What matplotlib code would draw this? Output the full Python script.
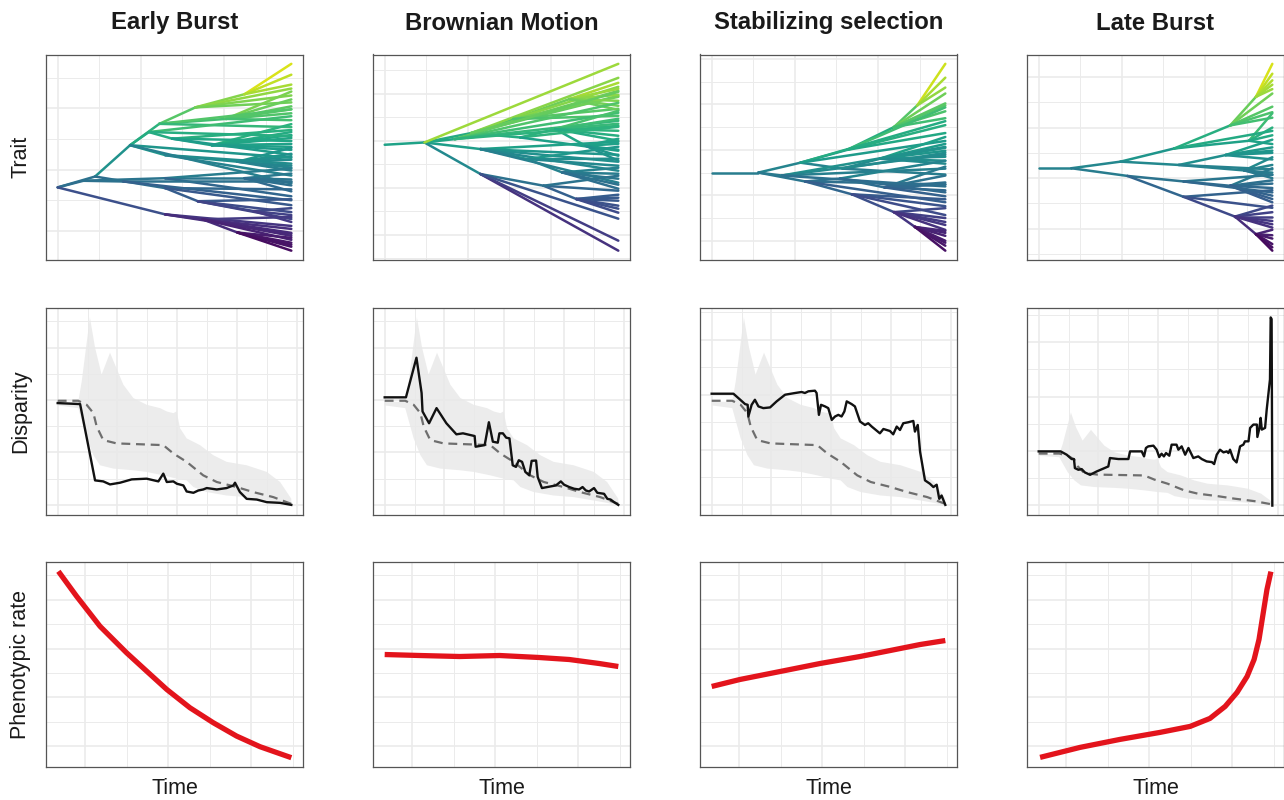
import numpy as np
import matplotlib
matplotlib.use("Agg")
import matplotlib.pyplot as plt
from matplotlib.collections import LineCollection

plt.rcParams['font.family'] = ['Liberation Sans', 'DejaVu Sans']

titles = ["Early Burst", "Brownian Motion", "Stabilizing selection", "Late Burst"]
row_labels = ["Trait", "Disparity", "Phenotypic rate"]

# --- row 1: trait trees, node -> (parent, time, trait); tips all end at time 1 ---
eb_nodes = {
    "R": (None, 0.0, 0.0), "A": ("R", 0.16, 1.1), "B": ("R", 0.11, 0.67),
    "C": ("R", 0.46, -2.73), "D": ("A", 0.31, 4.27), "E": ("D", 0.435, 6.43),
    "E2": ("D", 0.39, 5.6), "F": ("E", 0.59, 8.1), "G": ("F", 0.80, 9.43),
    "H": ("E2", 0.49, 4.93), "H2": ("D", 0.46, 3.27), "I": ("A", 0.46, -0.07),
    "J": ("B", 0.46, 0.93), "J2": ("B", 0.28, 0.6), "K": ("C", 0.62, -3.23),
    "L": ("K", 0.77, -4.57), "M": ("I", 0.60, -1.4), "Q": ("H", 0.66, 4.27),
    "S": ("E", 0.72, 6.93), "T": ("H2", 0.77, 2.6), "U": ("J", 0.80, 0.93),
    "V": ("M", 0.84, -2.4),
}
eb_tips = {
    "G": [12.5, 11.4, 10.4], "F": [10.0, 9.3, 8.6], "S": [9.7, 8.9, 8.2, 7.9, 7.5, 6.8],
    "E": [7.9, 6.1], "Q": [6.4, 5.6, 5.3, 5.0, 4.4, 4.1, 3.8], "H": [5.8, 4.7, 3.3],
    "E2": [7.2, 5.2], "T": [4.0, 3.4, 3.1, 2.8, 2.2, 2.0, 1.7], "H2": [2.4, 1.2],
    "D": [3.0, 0.4], "U": [1.4, 0.8, 0.5, 0.2, -0.4], "J": [1.9, -0.9], "J2": [0.6, -1.3],
    "I": [-0.2, -1.8], "M": [-1.2, -2.5, -3.2], "V": [-2.1, -2.8, -3.5], "C": [-3.9, -4.7],
    "K": [-3.0, -4.2, -4.6, -4.9, -5.3], "L": [-5.1, -5.6, -5.8, -6.0, -6.4],
}

bm_nodes = {
    "R": (None, 0.0, 0.0), "N1": ("R", 0.17, 0.23), "N2": ("N1", 0.37, 1.17),
    "N3": ("N1", 0.41, -0.43), "N4": ("N1", 0.41, -2.93), "N5": ("N2", 0.55, 2.57),
    "N6": ("N2", 0.58, 0.73), "N7": ("N4", 0.68, -4.1), "N8": ("N3", 0.61, -1.43),
    "N9": ("N5", 0.79, 4.57), "N10": ("N6", 0.73, 1.57), "N11": ("N8", 0.76, -2.77),
    "N12": ("N7", 0.82, -5.43), "N13": ("N1", 0.30, 0.57), "N14": ("N10", 0.86, -0.1),
}
bm_tips = {
    "N1": [8.1], "N2": [6.7, 5.4, 4.9], "N5": [5.8, 4.8, 3.6, 2.9],
    "N9": [6.2, 5.6, 5.0, 4.4, 3.9, 3.5], "N13": [5.3, 4.2, 3.2, 2.4, 1.9],
    "N10": [3.4, 2.6, 2.1, 1.4, 0.9, 0.4], "N6": [1.8, -0.6],
    "N14": [0.6, 0.1, -0.5, -1.1, -1.6], "N3": [0.3, -1.0, -1.7, -2.6, -3.8],
    "N8": [-0.2, -1.4, -2.1], "N11": [-2.3, -2.9, -3.4, -4.0, -4.4],
    "N4": [-10.6, -9.6, -7.4], "N7": [-4.6, -3.1], "N12": [-5.0, -5.3, -5.6, -6.1, -6.4, -6.8],
}

ou_nodes = {
    "R": (None, 0.0, 0.0), "S1": ("R", 0.20, 0.0), "S2": ("S1", 0.38, 1.0),
    "S3": ("S1", 0.40, -0.9), "S4": ("S2", 0.58, 2.3), "S5": ("S2", 0.56, 0.4),
    "S6": ("S3", 0.60, -2.2), "S7": ("S3", 0.55, -0.6), "S8": ("S4", 0.78, 4.6),
    "S9": ("S6", 0.78, -4.0), "S10": ("S5", 0.72, 1.4), "S11": ("S7", 0.74, -1.5),
    "S12": ("S8", 0.88, 6.8), "S13": ("S9", 0.87, -5.5), "S14": ("S1", 0.30, -0.3),
}
ou_tips = {
    "S12": [11.0, 9.6, 8.6], "S8": [8.0, 7.0, 6.8, 6.2, 5.5], "S4": [6.6, 4.8, 4.0],
    "S2": [5.2, 3.2], "S10": [3.6, 2.9, 2.5, 2.2, 1.6, 1.2, 0.9], "S5": [2.0, -0.2],
    "S14": [2.6, 1.8, 0.4, -1.4], "S11": [0.6, -0.3, -1.0, -1.2, -1.8, -2.4],
    "S7": [1.2, -2.0], "S3": [-1.2, -3.0], "S6": [-2.7, -3.4, -4.3],
    "S9": [-3.6, -4.6, -5.0, -5.3, -5.8], "S13": [-5.9, -6.1, -6.4, -6.9, -7.1, -7.4, -7.9],
}

lb_nodes = {
    "R": (None, 0.0, 0.0), "L1": ("R", 0.14, 0.0), "L2": ("L1", 0.35, 0.6),
    "L3": ("L1", 0.38, -0.7), "L4": ("L2", 0.58, 1.8), "L5": ("L2", 0.60, 0.3),
    "L6": ("L3", 0.62, -1.2), "L7": ("L3", 0.62, -2.6), "L8": ("L4", 0.82, 3.9),
    "L9": ("L7", 0.84, -4.4), "L10": ("L5", 0.80, 1.2), "L11": ("L6", 0.82, -1.6),
    "L12": ("L8", 0.93, 6.5), "L13": ("L9", 0.93, -6.0), "L14": ("L4", 0.90, 2.5),
    "L15": ("L5", 0.88, -0.2),
}
lb_tips = {
    "L12": [9.5, 8.6, 8.0, 7.6, 7.2], "L8": [6.8, 5.6, 5.1, 4.6], "L14": [5.0, 3.7, 3.0, 2.2],
    "L4": [3.4], "L10": [2.6, 1.9, 1.6, 1.4, 0.8], "L15": [1.0, 0.3, -0.4, -0.6, -0.9],
    "L5": [-0.1], "L11": [0.0, -1.1, -1.4, -1.8, -2.5, -2.8, -3.1], "L6": [-0.6, -2.2],
    "L7": [-2.0, -3.6], "L9": [-3.4, -4.0, -4.4, -4.8, -5.1, -5.4],
    "L13": [-5.6, -6.1, -6.4, -6.9, -7.2, -7.5],
}

# --- row 2: disparity through time ---
null_upper_time = [0, 0.088, 0.103, 0.138, 0.16, 0.188, 0.224, 0.245, 0.281, 0.324, 0.381, 0.438,
                   0.467, 0.495, 0.509, 0.524, 0.552, 0.609, 0.666, 0.723, 0.809, 0.895, 0.952, 1.0]
null_upper = [1.027, 1.02, 1.227, 1.86, 1.56, 1.293, 1.51, 1.393, 1.193, 1.06, 0.993, 0.96,
              0.927, 0.91, 0.927, 0.76, 0.66, 0.593, 0.493, 0.427, 0.393, 0.327, 0.227, 0.06]
null_lower_time = [0, 0.088, 0.124, 0.153, 0.181, 0.238, 0.324, 0.381, 0.452, 0.509, 0.552, 0.581,
                   0.638, 0.723, 0.809, 0.895, 0.952, 1.0]
null_lower = [0.987, 0.96, 0.66, 0.493, 0.393, 0.36, 0.343, 0.327, 0.293, 0.26, 0.243, 0.177,
              0.127, 0.093, 0.077, 0.043, 0.02, -0.007]
null_median_time = [0, 0.088, 0.124, 0.153, 0.167, 0.195, 0.252, 0.452, 0.495, 0.552, 0.623,
                    0.681, 0.766, 0.837, 0.923, 1.0]
null_median = [1.033, 1.033, 0.993, 0.91, 0.777, 0.643, 0.61, 0.593, 0.51, 0.427, 0.293,
               0.227, 0.177, 0.127, 0.077, 0.01]

eb_dtt_time = [0, 0.096, 0.16, 0.195, 0.224, 0.267, 0.317, 0.381, 0.431, 0.452, 0.467, 0.495,
               0.51, 0.538, 0.552, 0.581, 0.602, 0.623, 0.638, 0.681, 0.723, 0.752, 0.759, 0.78,
               0.809, 0.852, 0.895, 0.952, 1.0]
eb_dtt = [1.01, 1.0, 0.243, 0.233, 0.203, 0.22, 0.253, 0.26, 0.233, 0.31, 0.227, 0.233,
          0.21, 0.193, 0.133, 0.12, 0.143, 0.153, 0.167, 0.153, 0.167, 0.193, 0.22, 0.127,
          0.06, 0.053, 0.027, 0.02, 0.0]

bm_dtt_time = [0, 0.091, 0.136, 0.158, 0.162, 0.19, 0.222, 0.264, 0.307, 0.335, 0.385, 0.389,
               0.428, 0.446, 0.463, 0.484, 0.491, 0.506, 0.52, 0.534, 0.548, 0.562, 0.574, 0.588,
               0.602, 0.619, 0.629, 0.648, 0.655, 0.673, 0.733, 0.754, 0.768, 0.79, 0.811, 0.832,
               0.847, 0.861, 0.875, 0.896, 0.91, 0.939, 0.953, 0.967, 0.982, 1.0]
bm_dtt = [1.067, 1.067, 1.46, 1.11, 0.927, 0.81, 0.96, 0.81, 0.7, 0.71, 0.683, 0.577,
          0.593, 0.82, 0.627, 0.617, 0.71, 0.71, 0.667, 0.66, 0.393, 0.377, 0.443, 0.427,
          0.327, 0.293, 0.437, 0.44, 0.277, 0.167, 0.193, 0.233, 0.2, 0.177, 0.16, 0.153,
          0.177, 0.143, 0.133, 0.167, 0.12, 0.11, 0.06, 0.053, 0.027, 0.0]

ou_dtt_time = [0, 0.093, 0.114, 0.143, 0.154, 0.157, 0.171, 0.185, 0.2, 0.221, 0.25, 0.278,
               0.314, 0.357, 0.385, 0.399, 0.414, 0.442, 0.449, 0.459, 0.468, 0.485, 0.499,
               0.514, 0.528, 0.542, 0.556, 0.568, 0.578, 0.599, 0.613, 0.635, 0.656, 0.67,
               0.685, 0.72, 0.735, 0.763, 0.777, 0.792, 0.806, 0.82, 0.842, 0.863, 0.87, 0.882,
               0.892, 0.913, 0.934, 0.949, 0.963, 0.974, 0.984, 1.0]
ou_dtt = [1.103, 1.103, 1.06, 1.0, 0.993, 0.877, 0.993, 1.043, 0.977, 0.96, 0.967, 1.027,
          1.093, 1.11, 1.12, 1.11, 1.127, 1.133, 1.11, 0.893, 0.993, 0.977, 0.96,
          0.843, 0.877, 0.893, 0.877, 0.927, 1.027, 1.0, 0.977, 0.827, 0.793, 0.81,
          0.777, 0.71, 0.753, 0.733, 0.7, 0.777, 0.743, 0.81, 0.82, 0.833, 0.727, 0.793,
          0.527, 0.243, 0.21, 0.177, 0.2, 0.06, 0.093, 0.0]

lb_dtt_time = [0, 0.094, 0.12, 0.141, 0.151, 0.155, 0.17, 0.184, 0.198, 0.22, 0.248, 0.298,
               0.305, 0.341, 0.384, 0.391, 0.441, 0.451, 0.459, 0.469, 0.491, 0.505, 0.516,
               0.526, 0.536, 0.545, 0.559, 0.569, 0.59, 0.598, 0.612, 0.627, 0.641, 0.662,
               0.683, 0.698, 0.719, 0.741, 0.751, 0.762, 0.776, 0.791, 0.805, 0.812, 0.819,
               0.833, 0.847, 0.862, 0.876, 0.883, 0.898, 0.905, 0.919, 0.934, 0.936, 0.945,
               0.95, 0.955, 0.969, 0.976, 0.99, 0.993, 0.997, 1.0]
lb_dtt = [1.077, 1.077, 1.01, 0.923, 0.923, 0.741, 0.707, 0.721, 0.653, 0.606, 0.673, 0.774,
          0.943, 0.923, 0.923, 1.077, 1.077, 0.976, 1.145, 1.178, 1.192, 1.111, 0.963,
          1.03, 0.976, 1.044, 0.99, 1.212, 1.212, 1.111, 1.178, 1.01, 1.145, 0.943,
          0.976, 0.923, 0.875, 0.862, 0.822, 1.01, 1.111, 1.057, 1.077, 1.044, 1.111,
          0.923, 0.855, 1.178, 1.212, 1.279, 1.279, 1.549, 1.616, 1.616, 1.367, 1.549,
          1.751, 1.515, 1.549, 1.919, 2.525, 3.771, 3.737, -0.013]

# --- row 3: phenotypic rate through time ---
eb_rate_time = [0.003, 0.081, 0.181, 0.295, 0.381, 0.467, 0.566, 0.666, 0.766, 0.866, 1.0]
eb_rate = [2.083, 1.833, 1.533, 1.267, 1.083, 0.9, 0.717, 0.567, 0.433, 0.327, 0.217]
bm_rate_time = [0.0, 0.151, 0.321, 0.492, 0.662, 0.79, 0.918, 1.0]
bm_rate = [1.25, 1.24, 1.23, 1.24, 1.22, 1.20, 1.16, 1.13]
ou_rate_time = [0.0, 0.121, 0.293, 0.464, 0.635, 0.764, 0.892, 1.0]
ou_rate = [0.93, 1.0, 1.08, 1.16, 1.23, 1.29, 1.35, 1.39]
lb_rate_time = [0.006, 0.177, 0.348, 0.519, 0.648, 0.733, 0.798, 0.849, 0.892, 0.922, 0.943,
                0.96, 0.977, 0.994]
lb_rate = [0.22, 0.32, 0.40, 0.47, 0.53, 0.61, 0.73, 0.87, 1.03, 1.2, 1.4, 1.65, 1.9, 2.08]

trees = [(eb_nodes, eb_tips), (bm_nodes, bm_tips), (ou_nodes, ou_tips), (lb_nodes, lb_tips)]
dtts = [(eb_dtt_time, eb_dtt), (bm_dtt_time, bm_dtt), (ou_dtt_time, ou_dtt), (lb_dtt_time, lb_dtt)]
rates = [(eb_rate_time, eb_rate), (bm_rate_time, bm_rate), (ou_rate_time, ou_rate),
         (lb_rate_time, lb_rate)]

# grid line layout per row/column: (x start, x gap, y start, y gap)
grid_specs = [
    [(0, 0.178, -4.4, 3.1), (0, 0.178, -9.0, 2.35), (0, 0.178, -6.9, 2.3), (0, 0.178, -5.5, 2.3)],
    [(0, 0.128, 0, 0.26), (0, 0.128, 0, 0.26), (0, 0.128, 0, 0.273), (0, 0.128, 0, 0.545)],
    [(0.117, 0.178, 0.33, 0.245)] * 4,
]

W, H = 1284, 800
col_left = [46, 373, 700, 1027]
row_top = [54.5, 308, 562]
row_h = [205.5, 207, 205]
panel_w = 257


def tree_segments(nodes, tips):
    segs, vals = [], []
    for name, (par, t, y) in nodes.items():
        if par is None:
            continue
        _, pt, pyv = nodes[par]
        segs.append([(pt, pyv), (t, y)])
        vals.append(0.35 * pyv + 0.65 * y)
    for par, ys in tips.items():
        _, pt, pyv = nodes[par]
        for y in ys:
            segs.append([(pt, pyv), (1.0, y)])
            vals.append(0.35 * pyv + 0.65 * y)
    allv = [v[2] for v in nodes.values()] + [y for ys in tips.values() for y in ys]
    return segs, np.array(vals), min(allv), max(allv)


def panel_grid(ax, x0, dx, y0, dy):
    xlim, ylim = ax.get_xlim(), ax.get_ylim()
    for axis, start, gap, lim in ((ax.xaxis, x0, dx, xlim), (ax.yaxis, y0, dy, ylim)):
        k = np.arange(np.floor((lim[0] - start) / gap), np.ceil((lim[1] - start) / gap) + 1)
        pos = start + k * gap
        inside = (pos > lim[0]) & (pos < lim[1])
        axis.set_ticks(pos[inside & (k % 2 == 0)])
        axis.set_ticks(pos[inside & (k % 2 != 0)], minor=True)
    ax.set_xlim(xlim)
    ax.set_ylim(ylim)
    ax.grid(which='major', color='#ebebeb', lw=1.2)
    ax.grid(which='minor', color='#ebebeb', lw=0.7)
    ax.tick_params(which='both', length=0, labelbottom=False, labelleft=False)
    ax.set_axisbelow(True)
    for sp in ax.spines.values():
        sp.set_color('#555555')
        sp.set_linewidth(0.9)


fig = plt.figure(figsize=(W / 100, H / 100), dpi=100)
axes = [[None] * 4 for _ in range(3)]
for r in range(3):
    for c in range(4):
        rect = [col_left[c] / W, 1 - (row_top[r] + row_h[r]) / H, panel_w / W, row_h[r] / H]
        axes[r][c] = fig.add_axes(rect)

rate_all = np.concatenate([np.array(v) for _, v in rates])
rate_pad = 0.05 * (rate_all.max() - rate_all.min())

for c in range(4):
    # trait tree
    ax = axes[0][c]
    segs, vals, vmin, vmax = tree_segments(*trees[c])
    lc = LineCollection(segs, cmap='viridis', norm=plt.Normalize(vmin, vmax),
                        linewidths=1.8, capstyle='round')
    lc.set_array(vals)
    ax.add_collection(lc)
    ax.autoscale_view()

    # disparity
    ax = axes[1][c]
    ax.fill(np.concatenate([null_upper_time, null_lower_time[::-1]]),
            np.concatenate([null_upper, null_lower[::-1]]),
            color='#e9e9e9', alpha=0.85, lw=0, zorder=1.5)
    ax.plot(null_median_time, null_median, color='#6e6e6e', lw=1.6, ls=(0, (4, 2.6)), zorder=2)
    ax.plot(dtts[c][0], dtts[c][1], color='#111111', lw=1.7, zorder=3)

    # rate
    ax = axes[2][c]
    ax.plot(rates[c][0], rates[c][1], color='#e3141c', lw=3.8, solid_capstyle='butt')
    ax.set_ylim(rate_all.min() - rate_pad, rate_all.max() + rate_pad)
    ax.set_xlim(-0.05, 1.05)

for r in range(3):
    for c in range(4):
        panel_grid(axes[r][c], *grid_specs[r][c])

for c in range(4):
    xc = (col_left[c] + panel_w / 2) / W
    fig.text(xc, 1 - 23 / H, titles[c], ha='center', va='center', fontsize=17.2,
             fontweight='bold', color='#1a1a1a')
    fig.text(xc, 1 - 789 / H, "Time", ha='center', va='center', fontsize=15.5, color='#1a1a1a')

for r in range(3):
    yc = 1 - (row_top[r] + row_h[r] / 2) / H
    fig.text(21 / W, yc, row_labels[r], ha='center', va='center', rotation=90,
             fontsize=15.5, color='#1a1a1a')

fig.savefig("out.png", dpi=100)
